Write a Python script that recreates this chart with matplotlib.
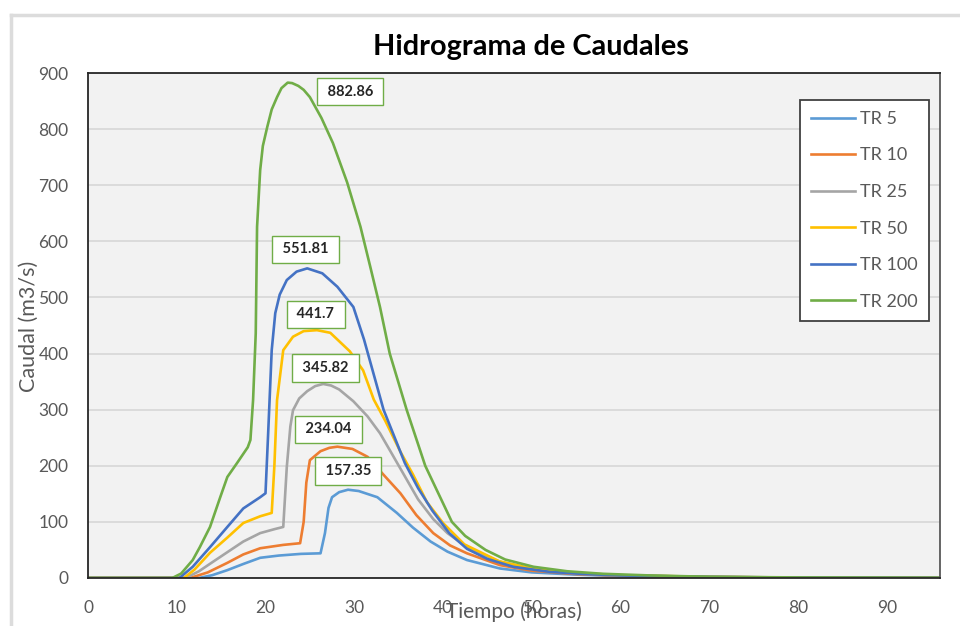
import matplotlib
matplotlib.use("Agg")
import matplotlib.pyplot as plt
from matplotlib.lines import Line2D

plt.rcParams['font.family'] = ['Lato', 'DejaVu Sans']

# Hydrograph values (time in hours, flow in m3/s)
t_5 = [0, 12.5, 14, 15.7, 17.5, 19.4, 21.5, 24, 26.2, 26.7, 27.1, 27.5, 28.3, 29.3, 30.5, 32.6,
       34.8, 36.6, 38.6, 40.5, 42.7, 46.4, 50, 55, 60, 70, 80, 96]
q_5 = [0, 0, 5, 14, 25, 36, 40, 43, 44, 80, 125, 144, 153, 157.35, 155, 144,
       116, 90, 65, 47, 32, 17, 10, 6, 3.5, 1.5, 0.6, 0.2]

t_10 = [0, 11.5, 13.5, 15.7, 17.5, 19.4, 22.0, 23.9, 24.3, 24.6, 25.0, 26.2, 27.2, 28.1, 29.8, 31.5,
        33.3, 35.2, 37, 38.9, 40.8, 42.7, 46.4, 50, 55, 60, 70, 80, 96]
q_10 = [0, 0, 10, 27, 42, 53, 59, 62, 100, 170, 210, 226, 232, 234.04, 230, 216,
        184, 151, 112, 80, 58, 44, 23, 13, 7, 4, 1.7, 0.7, 0.2]

t_25 = [0, 11, 12.5, 14, 15.7, 17.5, 19.4, 21, 22.0, 22.4, 22.8, 23.1, 23.8, 24.7, 25.6, 26.5, 27.4,
        28.3, 29.9, 31.5, 32.9, 34.0, 35.2, 37.2, 38.9, 40.5, 42.7, 46.4, 50, 55, 60, 70, 80, 96]
q_25 = [0, 0, 12, 28, 46, 65, 80, 87, 91, 198, 270, 299, 320, 333, 342, 345.82, 343,
        336, 315, 288, 258, 228, 195, 140, 105, 80, 55, 29, 16, 8, 4.5, 1.8, 0.7, 0.2]

t_50 = [0, 10.8, 12, 13.75, 15.7, 17.5, 19.4, 20.7, 21.0, 21.3, 22.0, 23.1, 24.3, 25.8, 27.3,
        29.5, 31.0, 32.2, 33.5, 35.2, 36.6, 38.2, 40, 42.4, 46.3, 50, 55, 60, 70, 80, 96]
q_50 = [0, 0, 15, 45, 72, 98, 110, 116, 200, 317, 406, 430, 440, 441.7, 437,
        404, 370, 318, 280, 225, 185, 135, 98, 60, 30, 17, 9, 5, 2, 0.8, 0.3]

t_100 = [0, 10.3, 11.8, 13.75, 15.7, 17.5, 19.4, 20.0, 20.3, 20.7, 21.1, 21.6, 22.4, 23.5, 24.7,
         26.4, 28.1, 29.9, 31.1, 33.3, 35.7, 37.2, 38.8, 40.7, 42.7, 45, 47.9, 52, 56, 60, 70, 80, 96]
q_100 = [0, 0, 20, 55, 91, 124, 144, 151, 258, 406, 472, 505, 531, 546, 551.81,
         543, 519, 483, 425, 300, 205, 160, 120, 80, 52, 34, 20, 11, 7, 4.5, 2, 0.8, 0.3]

t_200 = [0, 9.5, 10.5, 11.8, 12.6, 13.75, 14.9, 15.7, 16.8, 18.0, 18.3, 18.6, 18.9, 19.05, 19.4,
         19.7, 20.2, 20.7, 21.3, 21.8, 22.5, 23.0, 23.7, 24.3, 25.0, 26.3, 27.6, 29.2, 30.7,
         31.8, 32.9, 34.0, 35.9, 38.0, 39.5, 41.0, 42.5, 44.8, 47.0, 50.2, 54, 58, 63.4, 70, 80, 96]
q_200 = [0, 0, 8, 32, 55, 91, 144, 180, 205, 233, 246, 317, 436, 626, 727,
         770, 804, 835, 857, 873, 882.86, 882, 877, 870, 857, 820, 775, 705, 626,
         555, 483, 400, 300, 200, 150, 100, 75, 50, 33, 20, 12, 7.5, 4.5, 2.2, 1, 0.4]

labels = ['TR 5', 'TR 10', 'TR 25', 'TR 50', 'TR 100', 'TR 200']
colors = ['#5b9bd5', '#ed7d31', '#a5a5a5', '#ffc000', '#4472c4', '#70ad47']
series = [(t_5, q_5), (t_10, q_10), (t_25, q_25), (t_50, q_50), (t_100, q_100), (t_200, q_200)]
peak_text = ['157.35', '234.04', '345.82', '441.7', '551.81', '882.86']
# label box offsets from each peak, in points
peak_offsets = [(0, 13.5), (-6.4, 12.4), (1.7, 11.5), (-1, 11.3), (-1, 13.6), (45, -6.4)]

fig = plt.figure(figsize=(9.6, 6.26), dpi=100)
ax = fig.add_axes([88 / 960, 1 - 578 / 626, 852 / 960, 505 / 626])
ax.set_facecolor('#f2f2f2')

for (t, q), lab, c in zip(series, labels, colors):
    ax.plot(t, q, color=c, lw=1.9, label=lab, solid_joinstyle='round')

for (t, q), txt, off in zip(series, peak_text, peak_offsets):
    i = q.index(max(q))
    ax.annotate(' ' + txt + ' ', xy=(t[i], q[i]), xytext=off, textcoords='offset points',
                ha='center', va='center', fontsize=10.5, fontweight='bold', color='#262626',
                bbox=dict(boxstyle='square,pad=0.47', fc='white', ec='#70ad47', lw=1.0),
                zorder=5)

ax.set_xlim(0, 96)
ax.set_ylim(0, 900)
ax.set_xticks(range(0, 91, 10))
ax.set_yticks(range(0, 901, 100))
ax.grid(axis='y', color='#d9d9d9', lw=1.3)
ax.set_axisbelow(True)
ax.tick_params(axis='both', length=0, labelsize=12.5, labelcolor='#595959')
ax.tick_params(axis='x', pad=16)
ax.tick_params(axis='y', pad=14)
for side in ['left', 'bottom', 'top']:
    ax.spines[side].set_color('#262626')
    ax.spines[side].set_linewidth(1.3)
ax.spines['right'].set_color('#595959')
ax.spines['right'].set_linewidth(1.3)

leg = ax.legend(loc='upper left', bbox_to_anchor=(0.836, 0.9465), fontsize=13,
                frameon=True, fancybox=False, framealpha=1, edgecolor='#404040',
                handlelength=2.45, handletextpad=0.28, labelspacing=1.14,
                borderpad=0.6, borderaxespad=0)
leg.get_frame().set_linewidth(1.3)
for text in leg.get_texts():
    text.set_color('#595959')

fig.text(531 / 960, 1 - 47 / 626, 'Hidrograma de Caudales', ha='center', va='center',
         fontsize=20.8, fontweight='bold', color='black')
fig.text(514 / 960, 1 - 612 / 626, 'Tiempo (horas)', ha='center', va='center',
         fontsize=15, color='#595959')
fig.text(29 / 960, 1 - 326 / 626, 'Caudal (m3/s)', ha='center', va='center',
         rotation=90, fontsize=15.5, color='#595959')

# outer frame of the screenshot
fig.add_artist(Line2D([11 / 960, 1], [1 - 15 / 626, 1 - 15 / 626], color='#dcdcdc', lw=2.5))
fig.add_artist(Line2D([11 / 960, 11 / 960], [0, 1 - 15 / 626], color='#dcdcdc', lw=2.5))

fig.savefig('out.png', dpi=100)
